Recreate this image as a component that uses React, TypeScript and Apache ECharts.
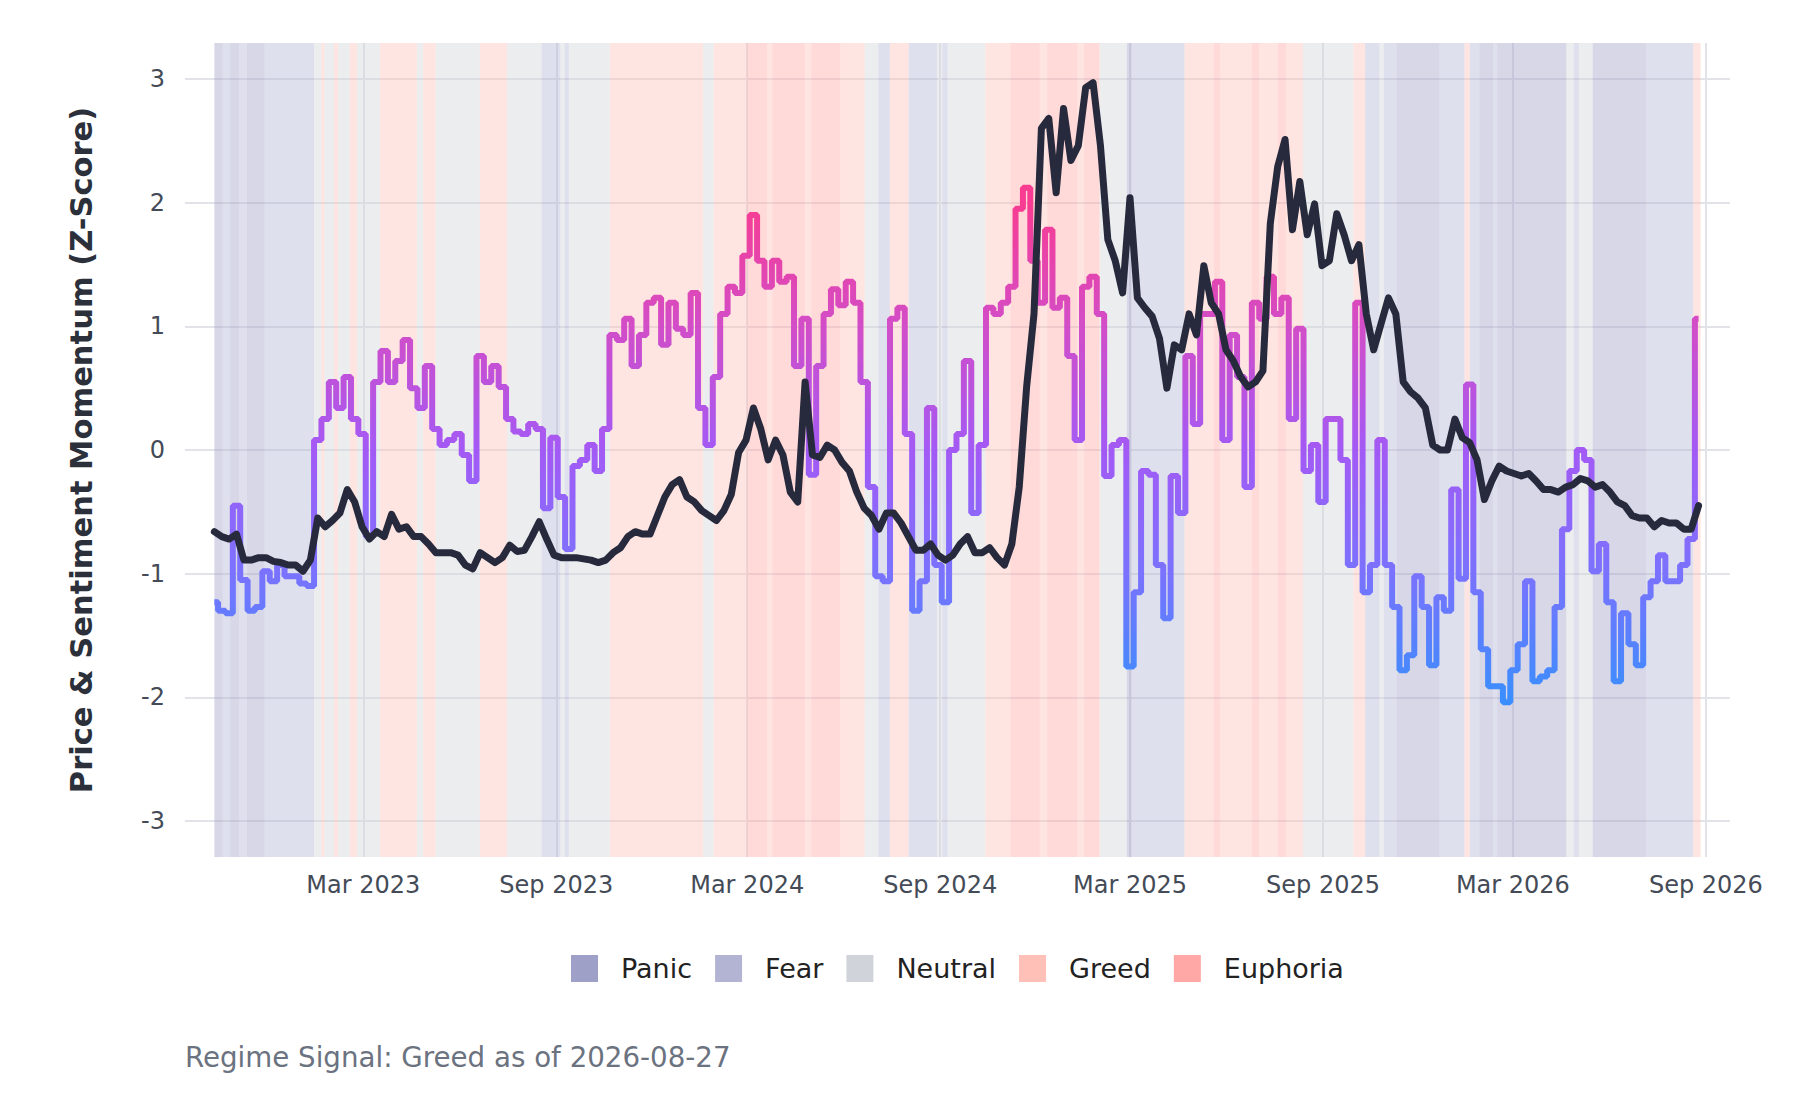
import { useRef, useEffect } from "react";
import * as echarts from "echarts";

// weekly samples, first one on 2022-10-10
const SAMPLE_START = "2022-10-10";
const STEP_DAYS = 7.04;
const DATA_END = "2026-08-27";

const priceZ = [
  -0.66, -0.7, -0.72, -0.68, -0.89, -0.89, -0.87, -0.87, -0.9, -0.91,
  -0.93, -0.93, -0.98, -0.89, -0.55, -0.62, -0.57, -0.51, -0.32, -0.42,
  -0.62, -0.72, -0.66, -0.7, -0.52, -0.64, -0.62, -0.7, -0.7, -0.76,
  -0.83, -0.83, -0.83, -0.85, -0.93, -0.96, -0.83, -0.87, -0.91, -0.87,
  -0.77, -0.82, -0.81, -0.7, -0.58, -0.72, -0.85, -0.87, -0.87, -0.87,
  -0.88, -0.89, -0.91, -0.89, -0.83, -0.79, -0.7, -0.66, -0.68, -0.68,
  -0.53, -0.38, -0.28, -0.24, -0.38, -0.42, -0.49, -0.53, -0.57, -0.49,
  -0.36, -0.02, 0.08, 0.34, 0.17, -0.08, 0.08, -0.04, -0.34, -0.42,
  0.55, -0.04, -0.06, 0.04, 0.0, -0.1, -0.17, -0.34, -0.47, -0.53,
  -0.64, -0.51, -0.51, -0.59, -0.7, -0.81, -0.81, -0.76, -0.85, -0.89,
  -0.85, -0.76, -0.7, -0.83, -0.83, -0.79, -0.87, -0.93, -0.76, -0.3,
  0.51, 1.1, 2.6, 2.68, 2.08, 2.76, 2.34, 2.46, 2.93, 2.97,
  2.46, 1.7, 1.53, 1.27, 2.04, 1.23, 1.15, 1.08, 0.9, 0.5,
  0.85, 0.81, 1.1, 0.93, 1.49, 1.19, 1.1, 0.81, 0.72, 0.59,
  0.51, 0.55, 0.64, 1.83, 2.29, 2.51, 1.78, 2.17, 1.74, 1.99,
  1.49, 1.53, 1.91, 1.74, 1.53, 1.66, 1.1, 0.81, 1.02, 1.23,
  1.1, 0.55, 0.47, 0.42, 0.34, 0.04, 0.0, 0.0, 0.25, 0.1,
  0.06, -0.08, -0.4, -0.25, -0.13, -0.17, -0.19, -0.21, -0.19, -0.25,
  -0.32, -0.32, -0.34, -0.3, -0.28, -0.23, -0.25, -0.3, -0.28, -0.34,
  -0.42, -0.45, -0.53, -0.55, -0.55, -0.62, -0.57, -0.59, -0.59, -0.64,
  -0.64, -0.45,
];

const sentimentZ = [
  -1.23, -1.3, -1.32, -0.45, -1.05, -1.3, -1.27, -0.98, -1.06, -0.93,
  -1.02, -1.02, -1.08, -1.1, 0.08, 0.25, 0.55, 0.34, 0.59, 0.25,
  0.13, -0.7, 0.55, 0.8, 0.55, 0.72, 0.89, 0.5, 0.34, 0.68,
  0.17, 0.04, 0.08, 0.13, -0.04, -0.25, 0.76, 0.55, 0.68, 0.51,
  0.25, 0.15, 0.13, 0.21, 0.17, -0.47, 0.1, -0.38, -0.8, -0.13,
  -0.08, 0.04, -0.17, 0.17, 0.93, 0.89, 1.06, 0.68, 0.93, 1.19,
  1.23, 0.85, 1.19, 0.98, 0.93, 1.27, 0.34, 0.04, 0.59, 1.1,
  1.32, 1.27, 1.57, 1.9, 1.53, 1.32, 1.53, 1.36, 1.4, 0.68,
  1.06, -0.2, 0.68, 1.1, 1.3, 1.17, 1.36, 1.19, 0.55, -0.3,
  -1.02, -1.06, 1.06, 1.15, 0.13, -1.3, -1.06, 0.34, -0.93, -1.23,
  0.0, 0.13, 0.72, -0.51, 0.04, 1.15, 1.1, 1.19, 1.32, 1.95,
  2.12, 1.53, 1.19, 1.78, 1.15, 1.23, 0.76, 0.08, 1.32, 1.4,
  1.1, -0.21, 0.04, 0.08, -1.75, -1.15, -0.17, -0.2, -0.93, -1.36,
  -0.21, -0.51, 0.76, 0.21, 1.1, 1.1, 1.36, 0.08, 0.93, 0.59,
  -0.3, 1.19, 1.06, 1.4, 1.1, 1.23, 0.25, 0.98, -0.17, 0.04,
  -0.42, 0.25, 0.25, -0.08, -0.93, 1.19, -1.15, -0.93, 0.08, -0.93,
  -1.27, -1.78, -1.66, -1.02, -1.27, -1.74, -1.19, -1.3, -0.32, -1.04,
  0.53, -1.15, -1.61, -1.91, -1.91, -2.04, -1.78, -1.57, -1.06, -1.87,
  -1.83, -1.78, -1.27, -0.64, -0.17, 0.0, -0.08, -0.98, -0.76, -1.23,
  -1.87, -1.32, -1.57, -1.74, -1.19, -1.06, -0.85, -1.06, -1.06, -0.93,
  -0.72, 1.06,
];

// regime bands: each one runs until the next start
const regimeStarts = [
  "2022-10-10", "2022-10-18", "2022-10-25", "2022-11-03", "2022-11-10", "2022-11-27",
  "2023-01-13", "2023-01-20", "2023-01-23", "2023-02-01", "2023-02-05", "2023-02-16",
  "2023-02-23", "2023-03-17", "2023-04-21", "2023-04-27", "2023-05-09", "2023-06-20",
  "2023-07-16", "2023-08-18", "2023-09-05", "2023-09-09", "2023-09-13", "2023-10-22",
  "2024-01-19", "2024-01-29", "2024-03-01", "2024-03-20", "2024-03-25", "2024-04-25",
  "2024-05-01", "2024-05-29", "2024-06-21", "2024-07-04", "2024-07-15", "2024-08-02",
  "2024-08-29", "2024-09-03", "2024-09-08", "2024-10-14", "2024-11-07", "2024-12-05",
  "2024-12-12", "2025-01-10", "2025-01-16", "2025-01-31", "2025-02-26", "2025-03-03",
  "2025-04-22", "2025-05-20", "2025-05-26", "2025-06-25", "2025-07-02", "2025-07-20",
  "2025-07-28", "2025-08-13", "2025-09-30", "2025-10-11", "2025-10-25", "2025-10-29",
  "2025-11-10", "2025-12-21", "2026-01-14", "2026-01-19", "2026-01-28", "2026-02-10",
  "2026-02-14", "2026-04-21", "2026-04-28", "2026-05-03", "2026-05-16", "2026-07-06",
  "2026-08-20",
];
const regimeOfBand = [
  "Panic", "Fear", "Panic", "Fear", "Panic", "Fear",
  "Neutral", "Greed", "Neutral", "Greed", "Neutral", "Greed",
  "Neutral", "Greed", "Neutral", "Greed", "Neutral", "Greed",
  "Neutral", "Fear", "Neutral", "Fear", "Neutral", "Greed",
  "Neutral", "Greed", "Euphoria", "Greed", "Euphoria", "Greed",
  "Euphoria", "Greed", "Neutral", "Fear", "Greed", "Fear",
  "Neutral", "Fear", "Neutral", "Greed", "Euphoria", "Greed",
  "Euphoria", "Greed", "Euphoria", "Neutral", "Panic", "Fear",
  "Greed", "Euphoria", "Greed", "Euphoria", "Greed", "Euphoria",
  "Greed", "Neutral", "Greed", "Fear", "Neutral", "Fear",
  "Panic", "Fear", "Greed", "Fear", "Panic", "Fear",
  "Panic", "Neutral", "Fear", "Neutral", "Panic", "Fear",
  "Greed",
];

const regimes = ["Panic", "Fear", "Neutral", "Greed", "Euphoria"];
const regimeColors = ["#9fa0c8", "#b3b4d4", "#d0d3da", "#ffc0b8", "#ffa8a5"];

const xTicks = [
  "2023-03-01", "2023-09-01", "2024-03-01", "2024-09-01",
  "2025-03-01", "2025-09-01", "2026-03-01", "2026-09-01",
];
const yTicks = [-3, -2, -1, 0, 1, 2, 3];

const MONTHS = ["Jan", "Feb", "Mar", "Apr", "May", "Jun", "Jul", "Aug", "Sep", "Oct", "Nov", "Dec"];
const FONT = "DejaVu Sans";
const DAY = 86400000;

const App = () => {
  const chartRef = useRef<HTMLDivElement>(null);

  useEffect(() => {
    document.body.style.margin = "0";
    const chart = echarts.init(chartRef.current, null, { renderer: "svg" });

    const t0 = Date.parse(SAMPLE_START);
    const sentData = sentimentZ.map((v, i) => [t0 + i * STEP_DAYS * DAY, v]);
    const priceData = priceZ.map((v, i) => [t0 + i * STEP_DAYS * DAY, v]);
    const xTickTimes = xTicks.map((d) => Date.parse(d));

    const bands = regimeStarts.map((s, i) => {
      const end = i + 1 < regimeStarts.length ? regimeStarts[i + 1] : DATA_END;
      const color = regimeColors[regimes.indexOf(regimeOfBand[i])];
      return [
        { xAxis: Date.parse(s), itemStyle: { color, opacity: 0.42 } },
        { xAxis: Date.parse(end) },
      ];
    });

    const options = {
      animation: false,
      textStyle: { fontFamily: FONT },
      grid: { left: 185, right: 70, top: 43, bottom: 243 },
      // timestamps on a value axis so the Mar/Sep ticks can be placed exactly
      xAxis: {
        type: "value",
        min: Date.parse("2022-09-12"),
        max: Date.parse("2026-09-24"),
        axisLine: { show: false },
        axisTick: { show: false, customValues: xTickTimes },
        axisLabel: {
          customValues: xTickTimes,
          fontSize: 24,
          color: "#444b57",
          margin: 16,
          formatter: (val: number) => {
            const d = new Date(val);
            return `${MONTHS[d.getUTCMonth()]} ${d.getUTCFullYear()}`;
          },
        },
        splitLine: { show: true, lineStyle: { color: "#e2e3e9", width: 2 } },
      },
      yAxis: {
        type: "value",
        min: -3.29,
        max: 3.29,
        axisLine: { show: false },
        axisTick: { show: false, customValues: yTicks },
        axisLabel: {
          customValues: yTicks,
          fontSize: 24,
          color: "#444b57",
          margin: 20,
        },
        splitLine: { show: true, lineStyle: { color: "#e2e3e9", width: 2 } },
      },
      visualMap: {
        type: "continuous",
        show: false,
        seriesIndex: 0,
        dimension: 1,
        min: -2,
        max: 2,
        inRange: { color: ["#3b8eff", "#7a72ff", "#a35af5", "#d24dc8", "#f83c92"] },
      },
      legend: {
        data: regimes,
        left: 566,
        top: 950,
        icon: "rect",
        itemWidth: 27,
        itemHeight: 27,
        itemGap: 23,
        textStyle: { fontSize: 27, color: "#222", fontFamily: FONT, padding: [0, 0, 0, 18] },
      },
      graphic: [
        {
          type: "text",
          x: 81,
          y: 450,
          rotation: Math.PI / 2,
          style: {
            text: "Price & Sentiment Momentum (Z-Score)",
            fontSize: 30.5,
            fontWeight: "bold",
            fontFamily: FONT,
            fill: "#2b303b",
            align: "center",
            verticalAlign: "middle",
          },
        },
        {
          type: "text",
          left: 185,
          top: 1043,
          style: {
            text: "Regime Signal: Greed as of 2026-08-27",
            fontSize: 27.7,
            fontFamily: FONT,
            fill: "#6b7280",
          },
        },
      ],
      series: [
        {
          name: "Sentiment",
          type: "line",
          data: sentData,
          step: "middle",
          showSymbol: false,
          z: 3,
          lineStyle: { width: 6 },
          markArea: { silent: true, data: bands },
        },
        {
          name: "Price",
          type: "line",
          data: priceData,
          showSymbol: false,
          z: 4,
          itemStyle: { color: "#272a3d" },
          lineStyle: { width: 7, color: "#272a3d", join: "round", cap: "round" },
        },
        ...regimes.map((r, i) => ({
          name: r,
          type: "scatter",
          data: [],
          itemStyle: { color: regimeColors[i], opacity: 1 },
        })),
      ],
    };

    chart.setOption(options);

    return () => {
      chart.dispose();
    };
  }, []);

  return <div ref={chartRef} style={{ width: 1800, height: 1100 }} />;
};

export default App;
